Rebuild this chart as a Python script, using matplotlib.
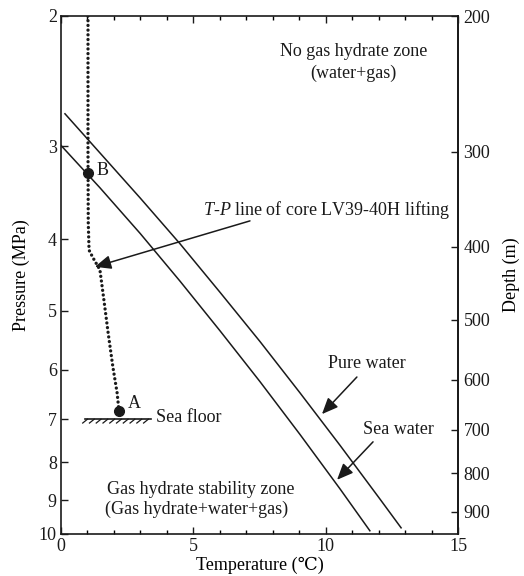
import numpy as np
import matplotlib
matplotlib.use("Agg")
import matplotlib.pyplot as plt

plt.rcParams['font.family'] = ['Liberation Serif', 'DejaVu Serif']
plt.rcParams['mathtext.fontset'] = 'custom'
plt.rcParams['mathtext.it'] = 'Liberation Serif:italic'
plt.rcParams['mathtext.rm'] = 'Liberation Serif'

# ---- data (temperature in degC, pressure in MPa) ----
pure_T = [0.15, 1.47, 2.99, 4.50, 6.01, 7.52, 9.03, 10.54, 12.05, 12.85]
pure_P = [2.71, 3.06, 3.52, 4.06, 4.72, 5.50, 6.45, 7.59, 8.97, 9.81]

sea_T = [0.0, 1.47, 2.99, 4.50, 6.01, 7.52, 9.03, 10.54, 11.67]
sea_P = [2.99, 3.41, 3.93, 4.56, 5.32, 6.23, 7.34, 8.69, 9.90]

core_T = [1.02, 1.02, 1.03, 1.06, 1.21, 1.47, 1.62, 1.78, 1.96, 2.12, 2.19]
core_P = [2.00, 3.03, 3.80, 4.14, 4.24, 4.40, 4.83, 5.35, 5.95, 6.45, 6.82]

point_A = (2.19, 6.82)
point_B = (1.02, 3.26)

seafloor_T = [0.9, 3.4]
seafloor_P = 7.0

p_ticks = [2, 3, 4, 5, 6, 7, 8, 9, 10]
depth_ticks = [200, 300, 400, 500, 600, 700, 800, 900]
t_ticks = [0, 5, 10, 15]

# depth (m) <-> pressure (MPa) used for the right-hand axis
P_PER_M = 0.010471
P_OFFSET = -0.094

W, H = 524, 576
fig = plt.figure(figsize=(W / 100, H / 100), dpi=100)
L, R, T, B = 61, 458, 16, 534
ax = fig.add_axes([L / W, 1 - B / H, (R - L) / W, (B - T) / H])

ax.set_yscale('log')
ax.set_xlim(0, 15)
ax.set_ylim(10, 2)

lc = '#1a1a1a'
ax.plot(pure_T, pure_P, color=lc, lw=1.1)
ax.plot(sea_T, sea_P, color=lc, lw=1.1)
ax.plot(core_T, core_P, color=lc, lw=2.4, linestyle=(0, (0.01, 1.4)),
        dash_capstyle='round')
ax.plot(*point_A, 'o', color=lc, ms=7)
ax.plot(*point_B, 'o', color=lc, ms=7)

# sea floor
ax.plot(seafloor_T, [seafloor_P] * 2, color=lc, lw=1.2)
for t in np.linspace(seafloor_T[0] + 0.1, seafloor_T[1] - 0.1, 10):
    ax.plot([t, t - 0.18], [seafloor_P, seafloor_P * 1.012], color=lc, lw=0.9)

ax.set_yticks(p_ticks)
ax.set_yticklabels([str(p) for p in p_ticks])
ax.yaxis.set_minor_locator(matplotlib.ticker.NullLocator())
ax.set_xticks(t_ticks)
ax.set_xticks(np.arange(0, 16, 1), minor=True)
ax.tick_params(axis='both', which='major', direction='in', length=5, width=1,
               labelsize=13, colors=lc, pad=3)
ax.tick_params(axis='x', which='both', direction='in', top=True, bottom=True)
ax.tick_params(axis='x', which='minor', length=3, width=1)
ax.tick_params(axis='y', which='major', right=False)
for s in ax.spines.values():
    s.set_linewidth(1.2)
    s.set_color(lc)

sec = ax.secondary_yaxis(
    'right',
    functions=(lambda p: (p - P_OFFSET) / P_PER_M, lambda d: d * P_PER_M + P_OFFSET))
sec.set_yticks(depth_ticks)
sec.set_yticklabels([str(d) for d in depth_ticks])
sec.yaxis.set_minor_locator(matplotlib.ticker.NullLocator())
sec.tick_params(direction='in', length=5, width=1, labelsize=13, colors=lc, pad=4)
sec.spines['right'].set_linewidth(1.2)
sec.set_ylabel('Depth (m)', fontsize=13, labelpad=9)

ax.set_xlabel('Temperature (\u2103)', fontsize=13, labelpad=1)
ax.set_ylabel('Pressure (MPa)', fontsize=13, labelpad=6)


def fx(x):
    return (x - L) / (R - L)


def fy(y):
    return 1 - (y - T) / (B - T)


kw = dict(transform=ax.transAxes, fontsize=13, color=lc)
ax.text(fx(354), fy(51), 'No gas hydrate zone', ha='center', va='center', **kw)
ax.text(fx(353), fy(73), '(water+gas)', ha='center', va='center', **kw)
ax.text(fx(203), fy(210), '$T$-$P$ line of core LV39-40H lifting', ha='left', va='center', **kw)
ax.text(fx(367), fy(363), 'Pure water', ha='center', va='center', **kw)
ax.text(fx(398), fy(430), 'Sea water', ha='center', va='center', **kw)
ax.text(fx(107), fy(489), 'Gas hydrate stability zone', ha='left', va='center', **kw)
ax.text(fx(105), fy(509), '(Gas hydrate+water+gas)', ha='left', va='center', **kw)
ax.text(fx(128), fy(404), 'A', ha='left', va='center', **kw)
ax.text(fx(97), fy(170), 'B', ha='left', va='center', **kw)
ax.text(fx(156), fy(417), 'Sea floor', ha='left', va='center', **kw)

ap = dict(arrowstyle='-|>,head_length=0.7,head_width=0.3', color=lc, lw=1.1,
          shrinkA=0, shrinkB=0, mutation_scale=14)
ax.annotate('', xy=(1.28, 4.36), xytext=(7.14, 3.78), arrowprops=ap)
ax.annotate('', xy=(9.86, 6.89), xytext=(11.18, 6.14), arrowprops=ap)
ax.annotate('', xy=(10.43, 8.45), xytext=(11.79, 7.51), arrowprops=ap)

fig.savefig('out.png', dpi=100)
